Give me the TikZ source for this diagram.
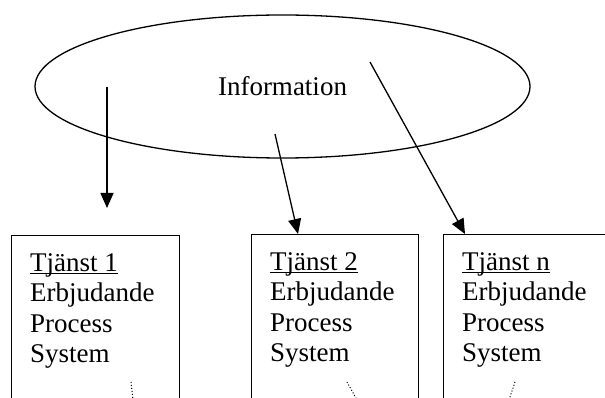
\documentclass[tikz,border=0pt]{standalone}
\usepackage{fontspec}
\setmainfont{Liberation Serif}
\usetikzlibrary{shapes.geometric,arrows.meta}
\tikzset{
    tjbox/.style={draw, line width=1.4pt, anchor=north west, inner sep=0pt, minimum height=200pt},
    tjtext/.style={anchor=north west, align=left, inner sep=0pt, font=\fontsize{27}{30.3}\selectfont},
    infoarrow/.style={line width=1.3pt, -{Triangle[length=15pt,width=13pt]}},
}
\begin{document}
\begin{tikzpicture}[x=1pt,y=-1pt]
            \useasboundingbox (0,0) rectangle (605,398);
            \clip (0,0) rectangle (605,398);
            \node[ellipse, draw, line width=1.3pt, minimum width=495pt, minimum height=143pt,
                inner sep=0pt, font=\fontsize{27}{30.3}\selectfont] (info) at (282.5,86.5) {Information};
            \foreach \n/\x/\y/\w/\t in {1/11/235/168/1, 2/251/234/167/2, 3/443/234/200/n} {
                \node[tjbox, minimum width=\w pt] (tj\n) at (\x,\y) {};
                \node[tjtext] (txt\n) at ([shift={(19,18.5)}]tj\n.north west)
                    {\underline{\raisebox{0pt}[\height][0pt]{Tjänst \t}}\\Erbjudande\\Process\\System};
            }
            \coordinate (s1) at (107,87);
            \coordinate (e1) at (107,208);
            \coordinate (s2) at (275,134);
            \coordinate (s3) at (370,62);
            \draw[infoarrow] (s1) -- (e1);
            \draw[infoarrow] (s2) -- ([shift={(47,0)}]tj2.north west);
            \draw[infoarrow] (s3) -- ([shift={(22,0)}]tj3.north west);
            \draw[dotted, line width=1pt] ([shift={(120,147)}]tj1.north west) -- ++(2,18);
            \draw[dotted, line width=1pt] ([shift={(96,148)}]tj2.north west) -- ++(10,18);
            \draw[dotted, line width=1pt] ([shift={(72,148)}]tj3.north west) -- ++(-6,18);
        \end{tikzpicture}
\end{document}
